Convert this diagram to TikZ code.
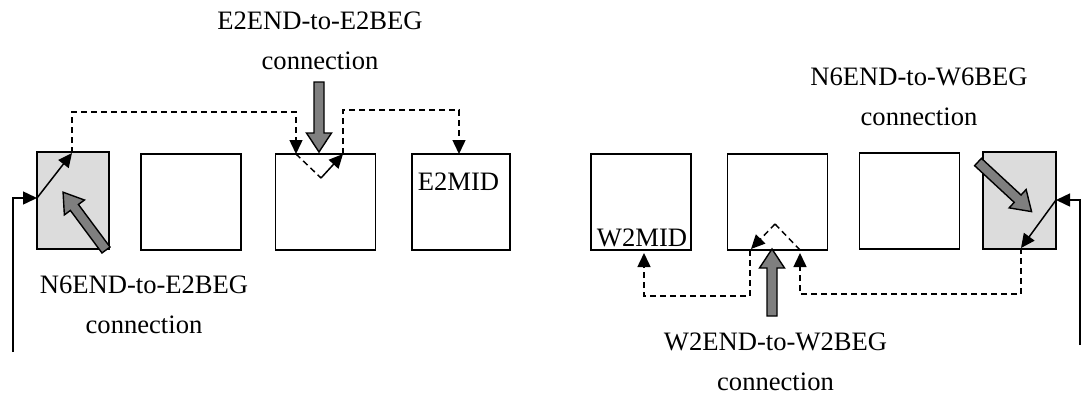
\documentclass[tikz,border=0pt]{standalone}
\usepackage{fontspec}
\setmainfont{Liberation Serif}
\usetikzlibrary{arrows.meta}
\definecolor{boxgray}{HTML}{DCDCDC}
\definecolor{arrgray}{HTML}{7F7F7F}
\begin{document}
\begin{tikzpicture}[x=1pt,y=-1pt,
  txt/.style={font=\fontsize{26.6}{40}\selectfont, inner sep=0pt},
  lbl/.style={txt, align=center, anchor=base},
  cell/.style={draw, line width=1.5pt, minimum width=100pt, minimum height=96pt, inner sep=0pt, outer sep=0pt},
  grcell/.style={cell, fill=boxgray, minimum width=72pt, minimum height=97pt},
  tipc/.style={-{Triangle[length=14pt,width=13pt]}},
  solidc/.style={line width=1.5pt, tipc},
  dashc/.style={line width=1.5pt, dash pattern=on 6pt off 4pt, tipc},
  dashl/.style={line width=1.5pt, dash pattern=on 6pt off 4pt},
  fatstyle/.style={draw, fill=arrgray, line width=1.4pt, line join=miter},
  pics/fat/.style={code={\draw[fatstyle] (0,-5) -- ({#1-19},-5) -- ({#1-19},-12.5) -- (#1,0) -- ({#1-19},12.5) -- ({#1-19},5) -- (0,5) -- cycle;}}
]
\useasboundingbox (0,0) rectangle (1082,397);

% left group boxes
\node[grcell] (b1) at (73,200.5) {};
\node[cell] (b2) at (191,202) {};
\node[cell] (b3) at (325.5,202) {};
\node[cell, minimum width=98pt] (b4) at (461,202) {};
% right group boxes
\node[cell] (b5) at (641,202) {};
\node[cell] (b6) at (777.5,202) {};
\node[cell] (b7) at (909.5,201) {};
\node[grcell, minimum width=73pt] (b8) at (1019.5,200.5) {};

% inner labels
\node[txt, anchor=base] (e2mid) at (458.5,190) {E2MID};
\node[txt, anchor=base] (w2mid) at (642,246) {W2MID};

% outer labels (anchor = baseline of the last line)
\node[lbl] (t1) at (320,69) {E2END-to-E2BEG\\connection};
\node[lbl] (t2) at (144,333) {N6END-to-E2BEG\\connection};
\node[lbl] (t3) at (775.5,390) {W2END-to-W2BEG\\connection};
\node[lbl] (t4) at (919,125) {N6END-to-W6BEG\\connection};

% left connectors
\coordinate (l0) at (13,352);
\coordinate (p1) at (37,198);
\coordinate (p2) at (72,153);
\coordinate (p3) at (296,154);
\coordinate (p4) at (321,178);
\coordinate (p5) at (343,154);
\coordinate (p6) at (459,154);
\draw[solidc] (l0) |- (p1);
\draw[solidc] (p1) -- (p2);
\draw[dashc] (p2) -- (72,112) -| (p3);
\draw[dashl] (p3) -- (p4);
\draw[solidc] (p4) -- (p5);
\draw[dashc] (p5) -- (343,110) -| (p6);

% right connectors
\coordinate (r0) at (1080,345);
\coordinate (q1) at (1056,200);
\coordinate (q2) at (1021,248);
\coordinate (q3) at (800,253);
\coordinate (q4) at (775,224);
\coordinate (q5) at (751,249);
\coordinate (q6) at (644,253);
\draw[solidc] (r0) |- (q1);
\draw[solidc] (q1) -- (q2);
\draw[dashc] (q2) -- (1021,294) -| (q3);
\draw[dashl] (800,250) -- (q4);
\draw[dashc] (q4) -- (q5);
\draw[dashc] (750,250) -- (750,296) -| (q6);

% fat gray pointers
\pic[rotate=126.6] at (106,250) {fat=72};
\pic[rotate=-90] at (319,82) {fat=70};
\pic[rotate=90] at (772,316) {fat=67};
\pic[rotate=-42.8] at (978,162) {fat=73};
\end{tikzpicture}
\end{document}
